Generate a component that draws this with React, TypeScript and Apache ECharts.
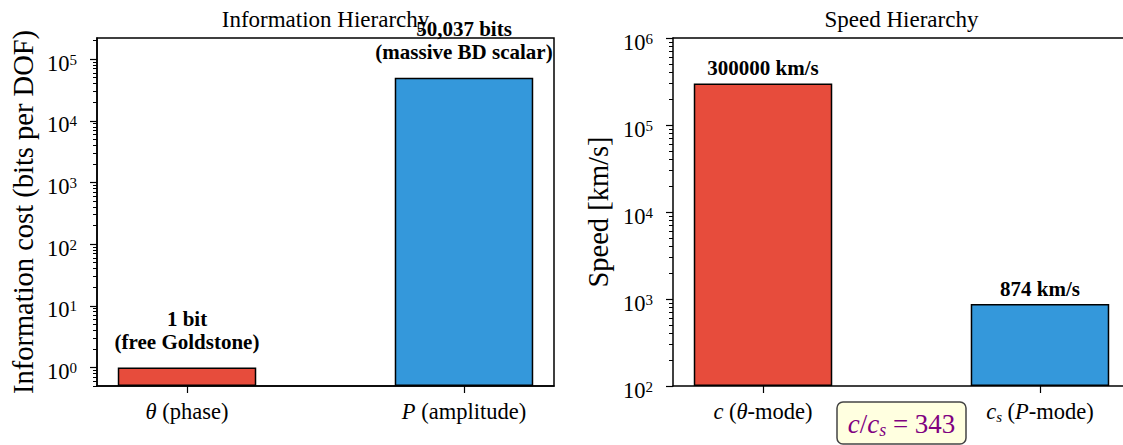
import { useEffect, useRef } from 'react';
import * as echarts from 'echarts';

const FONT = "'Liberation Serif', 'Times New Roman', Times, serif";

// ---- data ----
const infoTickLabels = ['{i|θ}{r| (phase)}', '{i|P}{r| (amplitude)}'];
const infoValues = [1, 50037];
const infoNotes = ['1 bit\n(free Goldstone)', '50,037 bits\n(massive BD scalar)'];
const speedTickLabels = ['{i|c}{r| (}{i|θ}{r|-mode)}', '{i|c}{sub|s}{r| (}{i|P}{r|-mode)}'];
const speedValues = [300000, 874];
const speedNotes = ['300000 km/s', '874 km/s'];
const barColors = ['#e74c3c', '#3498db'];
const infoMajorTicks = [1, 10, 100, 1000, 10000, 100000];
const speedMajorTicks = [100, 1000, 10000, 100000, 1000000];
const titles = ['Information Hierarchy', 'Speed Hierarchy'];
const yTitles = ['Information cost (bits per DOF)', 'Speed [km/s]'];
const ratioText = '{i|c}{r|/}{i|c}{sub|s}{r| = 343}';

function minorTicks(lo: number, hi: number): number[] {
  const out: number[] = [];
  for (let d = Math.floor(Math.log10(lo)); d <= Math.ceil(Math.log10(hi)); d++) {
    for (let m = 2; m <= 9; m++) {
      const v = m * Math.pow(10, d);
      if (v >= lo && v <= hi) out.push(v);
    }
  }
  return out;
}

const richX = {
  r: { fontSize: 22.5, fontFamily: FONT, color: '#000', lineHeight: 26 },
  i: { fontSize: 22.5, fontFamily: FONT, fontStyle: 'italic', color: '#000', lineHeight: 26 },
  sub: { fontSize: 15, fontFamily: FONT, fontStyle: 'italic', color: '#000', lineHeight: 15, verticalAlign: 'bottom' },
};

const richY = {
  b: { fontSize: 22.5, fontFamily: FONT, color: '#000', lineHeight: 22, padding: [8, 0, 0, 0] },
  s: { fontSize: 15, fontFamily: FONT, color: '#000', lineHeight: 15, verticalAlign: 'top', padding: [4, 0, 0, 0] },
};

const xAxisFor = (gridIndex: number, labels: string[], max: number) => ({
  type: 'value',
  gridIndex,
  min: -0.325,
  max,
  splitLine: { show: false },
  axisLine: { show: true, onZero: false, lineStyle: { color: '#000', width: 1.5 } },
  axisTick: { show: true, length: 7, lineStyle: { color: '#000', width: 1.2 }, customValues: [0, 1] },
  axisLabel: {
    customValues: [0, 1],
    formatter: (v: number) => labels[Math.round(v)],
    margin: 12,
    color: '#000',
    fontSize: 22.5,
    fontFamily: FONT,
    rich: richX,
  },
});

const xTopFor = (gridIndex: number, max: number) => ({
  type: 'value',
  gridIndex,
  position: 'top',
  min: -0.325,
  max,
  splitLine: { show: false },
  axisLine: { show: true, onZero: false, lineStyle: { color: '#000', width: 1.5 } },
  axisTick: { show: false },
  axisLabel: { show: false },
});

const yMajorFor = (gridIndex: number, min: number, max: number, ticks: number[]) => ({
  type: 'log',
  logBase: 10,
  gridIndex,
  min,
  max,
  startValue: min,
  splitLine: { show: false },
  axisLine: { show: true, onZero: false, lineStyle: { color: '#000', width: 1.5 } },
  axisTick: { show: true, length: 7, lineStyle: { color: '#000', width: 1.2 }, customValues: ticks },
  axisLabel: {
    customValues: ticks,
    formatter: (v: number) => `{b|10}{s|${Math.round(Math.log10(v))}}`,
    margin: 20,
    color: '#000',
    fontSize: 22.5,
    fontFamily: FONT,
    rich: richY,
  },
});

const yMinorFor = (gridIndex: number, min: number, max: number) => ({
  type: 'log',
  logBase: 10,
  gridIndex,
  min,
  max,
  position: 'left',
  splitLine: { show: false },
  axisLine: { show: false, onZero: false },
  axisTick: { show: true, length: 4, lineStyle: { color: '#000', width: 1 }, customValues: minorTicks(min, max) },
  axisLabel: { show: false },
});

const barSeries = (xi: number, yi: number, values: number[], notes: string[], distance: number) => ({
  type: 'bar',
  xAxisIndex: xi,
  yAxisIndex: yi,
  barWidth: 138.5,
  data: values.map((v, i) => ({
    value: [i, v],
    itemStyle: { color: barColors[i] },
    label: { formatter: notes[i] },
  })),
  itemStyle: { borderColor: '#000', borderWidth: 1.5 },
  label: {
    show: true,
    position: 'top',
    distance,
    fontSize: 21,
    fontWeight: 'bold',
    fontFamily: FONT,
    color: '#000',
    lineHeight: 23,
  },
});

export default function App() {
  const ref = useRef<HTMLDivElement>(null);
  useEffect(() => {
    if (!ref.current) return;
    const chart = echarts.init(ref.current, undefined, { renderer: 'svg' });
    const infoMin = 0.5, infoMax = 2.2e5;
    const spMin = 100, spMax = 1e6;
    // right panel is cut by the page edge: its visible width is 450 of 457 px
    const leftXMax = 1.325;
    const rightXMax = -0.325 + 1.65 * (450 / 457);
    const textStyle = (text: string, size: number) => ({
      text, fontSize: size, fontFamily: FONT, fill: '#000',
      align: 'center', verticalAlign: 'middle', textAlign: 'center', textVerticalAlign: 'middle',
    });
    chart.setOption({
      animation: false,
      backgroundColor: '#fff',
      grid: [
        { left: 97, top: 38, width: 457, height: 348, show: true, borderColor: '#000', borderWidth: 1.5, backgroundColor: 'transparent' },
        { left: 673, top: 38, width: 450, height: 348, show: false },
      ],
      xAxis: [
        xAxisFor(0, infoTickLabels, leftXMax),
        xAxisFor(1, speedTickLabels, rightXMax),
        xTopFor(1, rightXMax),
      ],
      yAxis: [
        yMajorFor(0, infoMin, infoMax, infoMajorTicks),
        yMinorFor(0, infoMin, infoMax),
        yMajorFor(1, spMin, spMax, speedMajorTicks),
        yMinorFor(1, spMin, spMax),
      ],
      series: [
        barSeries(0, 0, infoValues, infoNotes, 14),
        barSeries(1, 2, speedValues, speedNotes, 4),
      ],
      graphic: [
        { type: 'text', x: 325.5, y: 19, style: textStyle(titles[0], 23) },
        { type: 'text', x: 901.5, y: 19, style: textStyle(titles[1], 23) },
        { type: 'text', x: 23, y: 212, rotation: Math.PI / 2, style: textStyle(yTitles[0], 28.5) },
        { type: 'text', x: 598, y: 212, rotation: Math.PI / 2, style: textStyle(yTitles[1], 28.5) },
        { type: 'rect', shape: { x: 837, y: 402, width: 129, height: 42, r: 6 }, style: { fill: '#ffffe0', stroke: '#444', lineWidth: 1.5 } },
        {
          type: 'text', x: 901.5, y: 424,
          style: {
            text: ratioText, fontSize: 27, fontFamily: FONT, fill: '#800080',
            align: 'center', verticalAlign: 'middle', textAlign: 'center', textVerticalAlign: 'middle',
            rich: {
              r: { fontSize: 27, fontFamily: FONT, fill: '#800080', lineHeight: 30 },
              i: { fontSize: 27, fontFamily: FONT, fontStyle: 'italic', fill: '#800080', lineHeight: 30 },
              sub: { fontSize: 18, fontFamily: FONT, fontStyle: 'italic', fill: '#800080', lineHeight: 18, verticalAlign: 'bottom' },
            },
          },
        },
      ],
    });
    return () => chart.dispose();
  }, []);
  return <div ref={ref} style={{ position: 'fixed', left: 0, top: 0, width: 1123, height: 445 }} />;
}
